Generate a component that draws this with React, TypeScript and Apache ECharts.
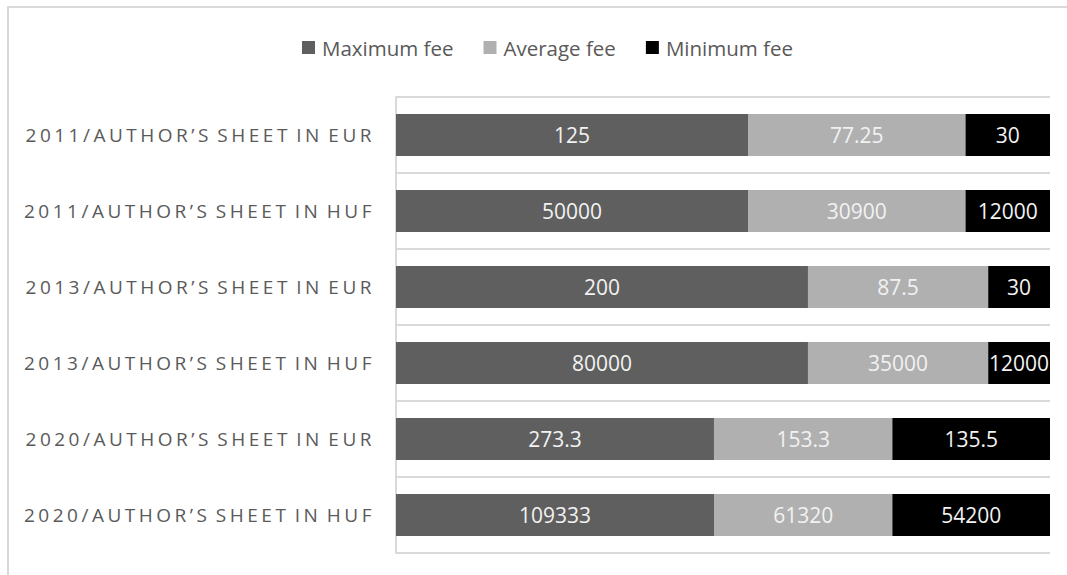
import React, { useEffect, useRef } from "react";
import * as echarts from "echarts";

const categories = [
  "2011/AUTHOR’S SHEET IN EUR",
  "2011/AUTHOR’S SHEET IN HUF",
  "2013/AUTHOR’S SHEET IN EUR",
  "2013/AUTHOR’S SHEET IN HUF",
  "2020/AUTHOR’S SHEET IN EUR",
  "2020/AUTHOR’S SHEET IN HUF",
];
const seriesNames = ["Maximum fee", "Average fee", "Minimum fee"];
const maxFee = [125, 50000, 200, 80000, 273.3, 109333];
const avgFee = [77.25, 30900, 87.5, 35000, 153.3, 61320];
const minFee = [30, 12000, 30, 12000, 135.5, 54200];
const colors = ["#5f5f5f", "#b0b0b0", "#000000"];

const AXIS_LABEL_FILL = "#5a5a5a";

export default function App() {
  const ref = useRef<HTMLDivElement>(null);
  useEffect(() => {
    if (!ref.current) return;
    const style = document.createElement("style");
    style.textContent = `text[fill="${AXIS_LABEL_FILL}"] { letter-spacing: 3.5px; word-spacing: -3px; }`;
    document.head.appendChild(style);

    const chart = echarts.init(ref.current, null, { renderer: "svg" });
    const raw = [maxFee, avgFee, minFee];
    const totals = categories.map((_, i) => maxFee[i] + avgFee[i] + minFee[i]);
    const series = raw.map((arr, si) => ({
      name: seriesNames[si],
      type: "bar",
      stack: "total",
      barWidth: 42,
      itemStyle: { color: colors[si] },
      label: {
        show: true,
        position: "inside",
        color: "#f2f2f2",
        fontFamily: "Open Sans",
        fontSize: 21,
        formatter: (p: any) => String(arr[p.dataIndex]),
      },
      data: arr.map((v, i) => v / totals[i]),
    }));
    chart.setOption({
      animation: false,
      backgroundColor: "#ffffff",
      legend: {
        top: 32,
        left: 297,
        icon: "rect",
        itemWidth: 13,
        itemHeight: 13,
        itemGap: 30,
        textStyle: { fontFamily: "Open Sans", fontSize: 20.5, color: "#595959", padding: [0, 0, 0, 2] },
        data: seriesNames,
      },
      grid: { left: 396, right: 17, top: 97, bottom: 22 },
      xAxis: { type: "value", min: 0, max: 1, show: false },
      yAxis: {
        type: "category",
        inverse: true,
        data: categories,
        axisLine: { show: true, lineStyle: { color: "#d9d9d9", width: 2 } },
        axisTick: { show: false },
        splitLine: { show: true, lineStyle: { color: "#d9d9d9", width: 2 } },
        axisLabel: {
          margin: 21,
          color: AXIS_LABEL_FILL,
          fontFamily: "Open Sans",
          fontSize: 19,
        },
      },
      graphic: [
        {
          type: "rect",
          shape: { x: 8, y: 7, width: 1200, height: 700 },
          style: { fill: "none", stroke: "#d9d9d9", lineWidth: 2 },
          silent: true,
        },
      ],
      series,
    });
    return () => {
      chart.dispose();
      style.remove();
    };
  }, []);
  return (
    <div
      ref={ref}
      style={{ position: "fixed", left: 0, top: 0, width: 1067, height: 575 }}
    />
  );
}
